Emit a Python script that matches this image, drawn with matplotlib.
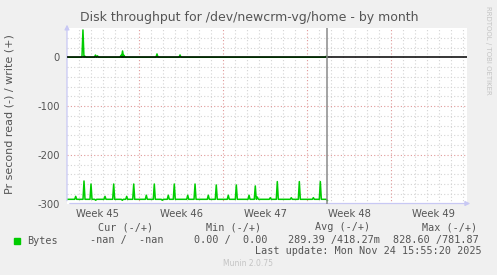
import numpy as np
import matplotlib
matplotlib.use("Agg")
import matplotlib.pyplot as plt

# ── Data (x in days from left edge of the graph) ─────────────────────────────
week_labels = ["Week 45", "Week 46", "Week 47", "Week 48", "Week 49"]
week_label_days = [2.5, 9.5, 16.5, 23.5, 30.5]
week_bound_days = [6, 13, 20, 27]
now_day = 21.69
y_ticks = [0, -100, -200, -300]

read_base = -291.4
read_spike_days = [0.725, 1.417, 2.0, 2.39, 3.167, 3.89, 4.61, 4.975, 5.56,
                   6.61, 7.275, 7.94, 8.44, 8.94, 10.06, 10.67, 11.775, 12.44,
                   13.44, 14.11, 15.17, 15.69, 15.86, 16.94, 17.525, 18.69,
                   19.36, 20.53, 21.11]
read_spike_vals = [-285.3, -253.8, -260.0, -293.4, -285.3, -260.0, -293.4,
                   -285.3, -260.0, -283.0, -260.0, -293.4, -283.0, -260.0,
                   -283.0, -260.0, -283.0, -262.0, -283.0, -262.0, -283.0,
                   -264.0, -286.7, -288.0, -255.0, -288.0, -255.0, -288.0,
                   -255.0]
read_end_day = 21.61
read_end_val = -294.0

write_spike_days = [1.33, 1.5, 2.37, 2.54, 4.5, 4.63, 4.75, 7.5, 9.42, 21.6]
write_spike_vals = [56.0, 2.0, 4.5, 3.0, 4.0, 12.9, 4.0, 6.8, 4.7, 2.0]

legend_head = ["Cur (-/+)", "Min (-/+)", "Avg (-/+)", "Max (-/+)"]
legend_vals = ["-nan /  -nan", "0.00 /  0.00", "289.39 /418.27m", "828.60 /781.87"]
last_update = "Last update: Mon Nov 24 15:55:20 2025"

GREEN = "#00CC00"
TXT = "#555555"
W, H = 497, 275


def spike_line(days, vals, base, dw=1 / 12):
    xs, ys = [0.0], [base]
    for d, v in zip(days, vals):
        xs += [d - dw, d, d + dw]
        ys += [base, v, base]
    return xs, ys


def fx(px):
    return px / W


def fy(py):
    return 1 - py / H


fig = plt.figure(figsize=(W / 100, H / 100), dpi=100, facecolor="#F0F0F0")
ax = fig.add_axes([fx(67), fy(203.5), 400 / W, 175.5 / H])
ax.set_facecolor("white")
ax.set_xlim(0, 400 / 12)
ax.set_ylim(-300, 60)

# grid
for d in range(1, 34):
    if d in week_bound_days:
        continue
    ax.axvline(d, color="#d4d4d4", lw=0.8, ls=(0, (1, 2)), zorder=1)
for v in range(-280, 60, 20):
    if v % 100 == 0:
        continue
    ax.axhline(v, color="#d4d4d4", lw=0.8, ls=(0, (1, 2)), zorder=1)
for d in week_bound_days:
    ax.axvline(d, color="#e09a9a", lw=0.8, ls=(0, (1, 2)), zorder=1)
for v in (-100, -200):
    ax.axhline(v, color="#e09a9a", lw=0.8, ls=(0, (1, 2)), zorder=1)

# series
rx, ry = spike_line(read_spike_days, read_spike_vals, read_base)
rx += [read_end_day, read_end_day + 1 / 12]
ry += [read_base, read_end_val]
ax.plot(rx, ry, color=GREEN, lw=1.1, zorder=3)

wx, wy = spike_line(write_spike_days, write_spike_vals, 0.0)
ax.plot(wx, wy, color=GREEN, lw=1.1, zorder=3)
ax.axhline(0, color="black", lw=1.1, zorder=4)

ax.axvline(now_day, color="#8a8a8a", lw=1.1, zorder=5)

# axes frame
for s in ax.spines.values():
    s.set_visible(False)
ax.annotate("", xy=(0, 1.035), xytext=(0, 0), xycoords="axes fraction",
            arrowprops=dict(arrowstyle="-|>", color="#c8c8f4", lw=0.9,
                            mutation_scale=7), annotation_clip=False)
ax.annotate("", xy=(1.015, 0), xytext=(0, 0), xycoords="axes fraction",
            arrowprops=dict(arrowstyle="-|>", color="#c8c8f4", lw=0.9,
                            mutation_scale=7), annotation_clip=False)

ax.set_yticks(y_ticks)
ax.set_yticklabels([str(v) for v in y_ticks])
ax.set_xticks(week_label_days)
ax.set_xticklabels(week_labels)
ax.tick_params(length=0, labelsize=7.2, labelcolor=TXT, pad=5)
ax.tick_params(axis="x", pad=4)

# texts
fig.text(0.501, fy(18), "Disk throughput for /dev/newcrm-vg/home - by month",
         ha="center", va="center", fontsize=9, color=TXT)
fig.text(fx(10), fy(114), "Pr second read (-) / write (+)", rotation=90,
         ha="center", va="center", fontsize=8, color=TXT)
fig.text(fx(488), fy(6), "RRDTOOL / TOBI OETIKER", rotation=-90,
         ha="center", va="top", fontsize=5, color="#c4c4c4")

fig.patches.append(plt.Rectangle((fx(14), fy(243.5)), 6 / W, 6 / H,
                                 transform=fig.transFigure, color=GREEN))
mono = dict(family="DejaVu Sans Mono", fontsize=7.3, color=TXT, va="center")
fig.text(fx(27), fy(240.5), "Bytes", **mono)
head_x = [98.5, 206.5, 315, 422.5]
val_x = [89.7, 194, 287.7, 392.7]
for x, t in zip(head_x, legend_head):
    fig.text(fx(x), fy(227.5), t, **mono)
for x, t in zip(val_x, legend_vals):
    fig.text(fx(x), fy(240.5), t, **mono)
fig.text(fx(482), fy(251), last_update, ha="right",
         **{k: v for k, v in mono.items()})
fig.text(fx(248), fy(264), "Munin 2.0.75", ha="center", va="center",
         fontsize=5.5, color="#c4c4c4")

fig.savefig("out.png", dpi=100, facecolor=fig.get_facecolor())
